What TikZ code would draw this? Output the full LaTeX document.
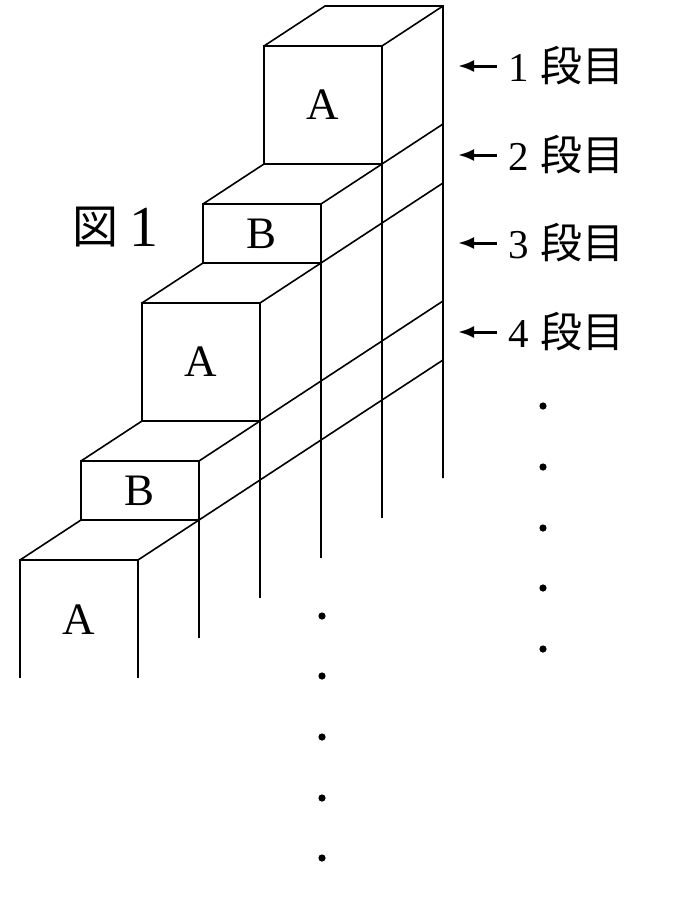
\documentclass[tikz,border=0pt]{standalone}
\usepackage{fontspec}
\setmainfont{Liberation Serif}
\newfontfamily\cjk{Noto Sans CJK JP}
\usetikzlibrary{arrows.meta}
\def\dan#1{#1\hspace{11pt}{\cjk\fontsize{42}{42}\selectfont 段目}}

\begin{document}
\begin{tikzpicture}[x=1pt, y=-1pt, line width=1.6pt,
		letter/.style={font=\fontsize{45}{45}\selectfont},
		danlabel/.style={anchor=west, inner sep=0pt, font=\fontsize{41}{41}\selectfont},
		danarrow/.style={line width=3pt, arrows={-Latex[length=16pt, width=12pt]}},
		dot/.style={fill=black}]
			%%%%% START %%%%%
			\useasboundingbox (0, 0) rectangle (690, 906);
			
			\draw (264, 46) rectangle (382, 164);
			\draw (203, 204) rectangle (321, 263);
			\draw (142, 303) rectangle (260, 421);
			\draw (81, 461) rectangle (199, 520);
			\draw (20, 678) -- (20, 560) -- (138, 560) -- (138, 678);
			
			\draw (264, 46) -- (325, 6) -- (443, 6) -- (443, 478);
			\draw (203, 204) -- (264, 164);
			\draw (142, 303) -- (203, 263);
			\draw (81, 461) -- (142, 421);
			\draw (20, 560) -- (81, 520);
			
			\draw (382, 164) -- (382, 518);
			\draw (321, 263) -- (321, 558);
			\draw (260, 421) -- (260, 598);
			\draw (199, 520) -- (199, 638);
			
			\draw (382, 46) -- (443, 6);
			\draw (321, 204) -- (443, 124);
			\draw (260, 303) -- (443, 183);
			\draw (199, 461) -- (443, 301);
			\draw (138, 560) -- (443, 360);
			
			\node[letter] (a1) at (323, 105) {A};
			\node[letter] (b2) at (262, 234) {B};
			\node[letter] (a3) at (201, 362) {A};
			\node[letter] (b4) at (140, 491) {B};
			\node[letter] (a5) at (79, 620) {A};
			
			\node[font=\cjk\fontsize{46}{46}\selectfont] (zu) at (95, 227) {図};
			\node[font=\fontsize{58}{58}\selectfont] (zunum) at (144, 227) {1};
			
			\node[danlabel] (dan1) at (508, 66) {\dan{1}};
			\node[danlabel] (dan2) at (508, 155) {\dan{2}};
			\node[danlabel] (dan3) at (508, 243) {\dan{3}};
			\node[danlabel] (dan4) at (508, 332) {\dan{4}};
			\draw[danarrow] ([xshift=-11pt]dan1.west) -- ++(-39, 0);
			\draw[danarrow] ([xshift=-11pt]dan2.west) -- ++(-39, 0);
			\draw[danarrow] ([xshift=-11pt]dan3.west) -- ++(-39, 0);
			\draw[danarrow] ([xshift=-11pt]dan4.west) -- ++(-39, 0);
			
			\fill[dot] (543, 406) circle (3.6);
			\fill[dot] (543, 467) circle (3.6);
			\fill[dot] (543, 528) circle (3.6);
			\fill[dot] (543, 588) circle (3.6);
			\fill[dot] (543, 649) circle (3.6);
			
			\fill[dot] (322, 616) circle (3.6);
			\fill[dot] (322, 676) circle (3.6);
			\fill[dot] (322, 737) circle (3.6);
			\fill[dot] (322, 798) circle (3.6);
			\fill[dot] (322, 858) circle (3.6);
			%%%%% END %%%%%
		\end{tikzpicture}
\end{document}
